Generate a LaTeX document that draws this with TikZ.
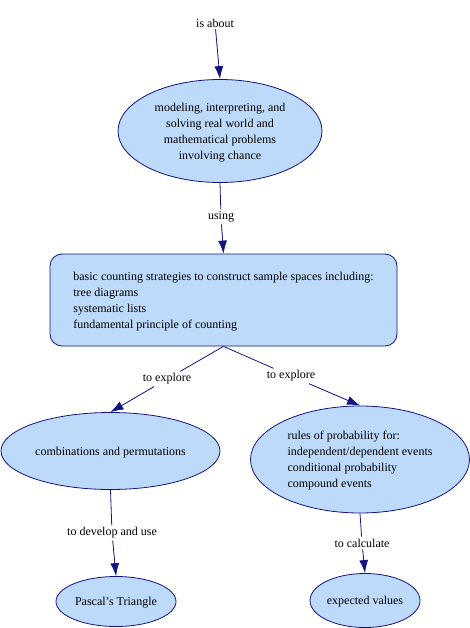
\documentclass[tikz,border=0pt]{standalone}
\usepackage{fontspec}
\setmainfont{Liberation Serif}
\definecolor{nodefill}{RGB}{190,218,250}
\definecolor{navyline}{RGB}{20,20,128}
\usetikzlibrary{shapes.geometric, arrows.meta, positioning}

\begin{document}
\begin{tikzpicture}[x=1pt, y=-1pt, font=\fontsize{12}{16}\selectfont, >={Latex[length=13pt,width=9pt]}]
      \useasboundingbox (0,0) rectangle (470,628);
      \tikzset{
        concept/.style={ellipse, draw=navyline, fill=nodefill, line width=0.8pt, inner sep=0pt, text depth=0pt},
        linkword/.style={inner sep=2pt},
        link/.style={draw=navyline, line width=0.8pt},
        linkarrow/.style={->, draw=navyline, fill=navyline, line width=0.8pt}
      }
      \node (isabout) [linkword] at (215,23) {is about};
      \node (modeling) [concept, minimum width=204pt, minimum height=103pt, align=center] at (220,131) {modeling, interpreting, and\\solving real world and\\mathematical problems\\involving chance};
      \node (using) [linkword] at (221,217) {using};
      \node (counting) [rectangle, draw=navyline, fill=nodefill, line width=0.8pt, rounded corners=12pt, minimum width=347pt, minimum height=92pt, text depth=0pt, align=left] at (223.5,300) {basic counting strategies to construct sample spaces including:\\tree diagrams\\systematic lists\\fundamental principle of counting};
      \node (exploreleft) [linkword] at (167,379) {to explore};
      \node (exploreright) [linkword] at (291,376) {to explore};
      \node (combinations) [concept, minimum width=219pt, minimum height=77pt] at (110.5,451) {combinations and permutations};
      \node (rules) [concept, minimum width=219pt, minimum height=107pt, align=left] at (360,459.5) {rules of probability for:\\independent/dependent events\\conditional probability\\compound events};
      \node (develop) [linkword] at (112,533) {to develop and use};
      \node (calculate) [linkword] at (362,543) {to calculate};
      \node (pascal) [concept, minimum width=120pt, minimum height=50pt] at (116,601.5) {Pascal's Triangle};
      \node (expected) [concept, minimum width=110pt, minimum height=54pt] at (365,600.5) {expected values};

      \draw[linkarrow] (isabout) -- (modeling.north);
      \draw[link] (modeling.south) -- (using);
      \draw[linkarrow] (using) -- (counting.north);
      \draw[link] (counting.south) -- (exploreleft);
      \draw[linkarrow] (exploreleft) -- (combinations.north);
      \draw[link] (counting.south) -- (exploreright);
      \draw[linkarrow] (exploreright) -- (rules.north);
      \draw[link] (combinations.south) -- (develop);
      \draw[linkarrow] (develop) -- (pascal.north);
      \draw[link] (rules.south) -- (calculate);
      \draw[linkarrow] (calculate) -- (expected.north);
    \end{tikzpicture}
\end{document}
